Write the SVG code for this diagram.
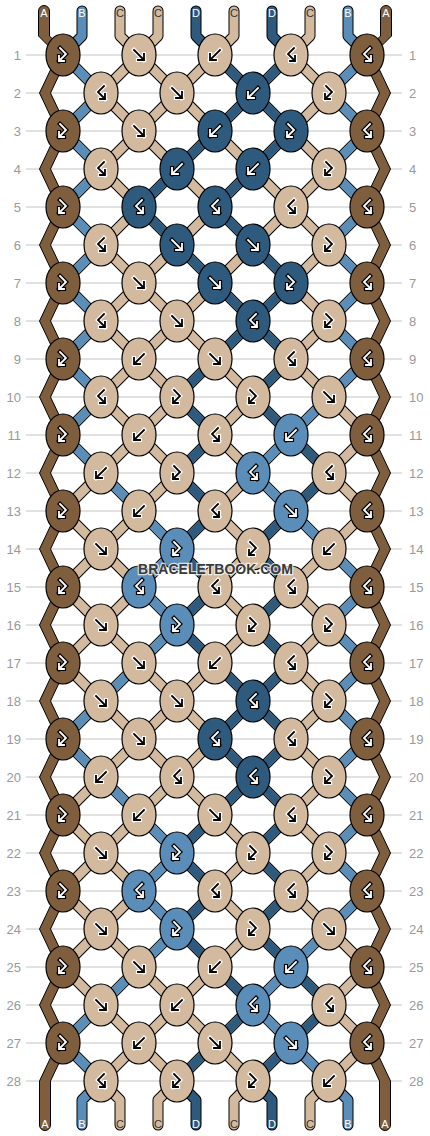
<svg xmlns="http://www.w3.org/2000/svg" xmlns:xlink="http://www.w3.org/1999/xlink" width="430" height="1136" viewBox="0 0 430 1136">
<style>
.grid{stroke:#c4c4c4;stroke-width:1;fill:none}
.num{font-family:"Liberation Sans",Arial,sans-serif;font-size:13px;fill:#999}
.nl{text-anchor:end}
.nr{text-anchor:start}
.ol{fill:none;stroke:#000;stroke-width:11}
.olr{fill:none;stroke:#000;stroke-width:11;stroke-linecap:round;stroke-linejoin:round}
.tc{fill:none;stroke:#d3b99d;stroke-width:9}
.tcr{fill:none;stroke-width:9;stroke-linecap:round;stroke-linejoin:round}
.sb{fill:none;stroke:#5a8db7;stroke-width:9}
.sd{fill:none;stroke:#2e5a7e;stroke-width:9}
.edge{fill:#7f5e3e;stroke:#000;stroke-width:1}
ellipse{stroke:#000;stroke-width:1.2}
.kb{fill:#7f5e3e}.kc{fill:#d3b99d}.kd{fill:#2e5a7e}.kl{fill:#5a8db7}
.go-k{fill:none;stroke:#000;stroke-width:4.2;stroke-linecap:square}
.go-w{fill:none;stroke:#fff;stroke-width:4.2;stroke-linecap:square}
.gi-w{fill:none;stroke:#fff;stroke-width:1.8;stroke-linecap:square}
.gi-k{fill:none;stroke:#000;stroke-width:1.8;stroke-linecap:square}
.lbl{font-family:"Liberation Sans",Arial,sans-serif;font-size:11px;text-anchor:middle}
.lw{fill:#fff}.lk{fill:#333}
.wm{font-family:"Liberation Sans",Arial,sans-serif;font-weight:bold;font-size:14px;text-anchor:middle;fill:#3a3a3a;stroke:#fff;stroke-width:2.5;stroke-opacity:0.75;paint-order:stroke}
</style>
<defs>
<path id="pF" d="M-5,-5L5,5M5,-1L5,5L-1,5"/>
<path id="pB" d="M5,-5L-5,5M-5,-1L-5,5L1,5"/>
<path id="pFB" d="M-3,-7L3,-1L-4,6M-4,1L-4,6L1,6"/>
<path id="pBF" d="M3,-7L-3,-1L4,6M4,1L4,6L-1,6"/>
<g id="wF"><use href="#pF" class="go-k"/><use href="#pF" class="gi-w"/></g>
<g id="wB"><use href="#pB" class="go-k"/><use href="#pB" class="gi-w"/></g>
<g id="wFB"><use href="#pFB" class="go-k"/><use href="#pFB" class="gi-w"/></g>
<g id="wBF"><use href="#pBF" class="go-k"/><use href="#pBF" class="gi-w"/></g>
<g id="kF"><use href="#pF" class="go-w"/><use href="#pF" class="gi-k"/></g>
<g id="kB"><use href="#pB" class="go-w"/><use href="#pB" class="gi-k"/></g>
<g id="kFB"><use href="#pFB" class="go-w"/><use href="#pFB" class="gi-k"/></g>
<g id="kBF"><use href="#pBF" class="go-w"/><use href="#pBF" class="gi-k"/></g>
</defs>
<g id="grid">
<path class="grid" d="M26,55H402M26,93H402M26,131H402M26,169H402M26,207H402M26,245H402M26,283H402M26,321H402M26,359H402M26,397H402M26,435H402M26,473H402M26,511H402M26,549H402M26,587H402M26,625H402M26,663H402M26,701H402M26,739H402M26,777H402M26,815H402M26,853H402M26,891H402M26,929H402M26,967H402M26,1005H402M26,1043H402M26,1081H402"/>
</g>
<g id="row-labels">
<text class="num nl" x="21" y="60">1</text><text class="num nr" x="409" y="60">1</text>
<text class="num nl" x="21" y="98">2</text><text class="num nr" x="409" y="98">2</text>
<text class="num nl" x="21" y="136">3</text><text class="num nr" x="409" y="136">3</text>
<text class="num nl" x="21" y="174">4</text><text class="num nr" x="409" y="174">4</text>
<text class="num nl" x="21" y="212">5</text><text class="num nr" x="409" y="212">5</text>
<text class="num nl" x="21" y="250">6</text><text class="num nr" x="409" y="250">6</text>
<text class="num nl" x="21" y="288">7</text><text class="num nr" x="409" y="288">7</text>
<text class="num nl" x="21" y="326">8</text><text class="num nr" x="409" y="326">8</text>
<text class="num nl" x="21" y="364">9</text><text class="num nr" x="409" y="364">9</text>
<text class="num nl" x="21" y="402">10</text><text class="num nr" x="409" y="402">10</text>
<text class="num nl" x="21" y="440">11</text><text class="num nr" x="409" y="440">11</text>
<text class="num nl" x="21" y="478">12</text><text class="num nr" x="409" y="478">12</text>
<text class="num nl" x="21" y="516">13</text><text class="num nr" x="409" y="516">13</text>
<text class="num nl" x="21" y="554">14</text><text class="num nr" x="409" y="554">14</text>
<text class="num nl" x="21" y="592">15</text><text class="num nr" x="409" y="592">15</text>
<text class="num nl" x="21" y="630">16</text><text class="num nr" x="409" y="630">16</text>
<text class="num nl" x="21" y="668">17</text><text class="num nr" x="409" y="668">17</text>
<text class="num nl" x="21" y="706">18</text><text class="num nr" x="409" y="706">18</text>
<text class="num nl" x="21" y="744">19</text><text class="num nr" x="409" y="744">19</text>
<text class="num nl" x="21" y="782">20</text><text class="num nr" x="409" y="782">20</text>
<text class="num nl" x="21" y="820">21</text><text class="num nr" x="409" y="820">21</text>
<text class="num nl" x="21" y="858">22</text><text class="num nr" x="409" y="858">22</text>
<text class="num nl" x="21" y="896">23</text><text class="num nr" x="409" y="896">23</text>
<text class="num nl" x="21" y="934">24</text><text class="num nr" x="409" y="934">24</text>
<text class="num nl" x="21" y="972">25</text><text class="num nr" x="409" y="972">25</text>
<text class="num nl" x="21" y="1010">26</text><text class="num nr" x="409" y="1010">26</text>
<text class="num nl" x="21" y="1048">27</text><text class="num nr" x="409" y="1048">27</text>
<text class="num nl" x="21" y="1086">28</text><text class="num nr" x="409" y="1086">28</text>
</g>
<g id="connectors">
<path class="ol" d="M291,55L367,131M215,55L367,207M139,55L367,283M63,55L367,359M63,131L367,435M63,207L367,511M63,283L367,587M63,359L367,663M63,435L367,739M63,511L367,815M63,587L367,891M63,663L367,967M63,739L367,1043M63,815L329,1081M63,891L253,1081M63,967L177,1081M63,1043L101,1081M139,55L63,131M215,55L63,207M291,55L63,283M367,55L63,359M367,131L63,435M367,207L63,511M367,283L63,587M367,359L63,663M367,435L63,739M367,511L63,815M367,587L63,891M367,663L63,967M367,739L63,1043M367,815L101,1081M367,891L177,1081M367,967L253,1081M367,1043L329,1081"/>
<path class="olr" d="M82,11V36L63,55M120,11V36L139,55M158,11V36L139,55M196,11V36L215,55M234,11V36L215,55M272,11V36L291,55M310,11V36L291,55M348,11V36L367,55M101,1081L82,1100V1125M101,1081L120,1100V1125M177,1081L158,1100V1125M177,1081L196,1100V1125M253,1081L234,1100V1125M253,1081L272,1100V1125M329,1081L310,1100V1125M329,1081L348,1100V1125"/>
<path id="thread-A-left" class="edge" d="M38.5,11A5.5,5.5 0 0 1 49.5,11L49.5,36L68.5,55L50.5,93L68.5,131L50.5,169L68.5,207L50.5,245L68.5,283L50.5,321L68.5,359L50.5,397L68.5,435L50.5,473L68.5,511L50.5,549L68.5,587L50.5,625L68.5,663L50.5,701L68.5,739L50.5,777L68.5,815L50.5,853L68.5,891L50.5,929L68.5,967L50.5,1005L68.5,1043L50.5,1081L50.5,1125A5.5,5.5 0 0 1 39.5,1125L39.5,1081L57.5,1043L39.5,1005L57.5,967L39.5,929L57.5,891L39.5,853L57.5,815L39.5,777L57.5,739L39.5,701L57.5,663L39.5,625L57.5,587L39.5,549L57.5,511L39.5,473L57.5,435L39.5,397L57.5,359L39.5,321L57.5,283L39.5,245L57.5,207L39.5,169L57.5,131L39.5,93L57.5,55L38.5,36Z"/>
<path id="thread-A-right" class="edge" d="M380.5,11A5.5,5.5 0 0 1 391.5,11L391.5,36L372.5,55L390.5,93L372.5,131L390.5,169L372.5,207L390.5,245L372.5,283L390.5,321L372.5,359L390.5,397L372.5,435L390.5,473L372.5,511L390.5,549L372.5,587L390.5,625L372.5,663L390.5,701L372.5,739L390.5,777L372.5,815L390.5,853L372.5,891L390.5,929L372.5,967L390.5,1005L372.5,1043L390.5,1081L390.5,1125A5.5,5.5 0 0 1 379.5,1125L379.5,1081L361.5,1043L379.5,1005L361.5,967L379.5,929L361.5,891L379.5,853L361.5,815L379.5,777L361.5,739L379.5,701L361.5,663L379.5,625L361.5,587L379.5,549L361.5,511L379.5,473L361.5,435L379.5,397L361.5,359L379.5,321L361.5,283L379.5,245L361.5,207L379.5,169L361.5,131L379.5,93L361.5,55L380.5,36Z"/>
<path class="tc" d="M291,55L367,131M215,55L367,207M139,55L367,283M63,55L367,359M63,131L367,435M63,207L367,511M63,283L367,587M63,359L367,663M63,435L367,739M63,511L367,815M63,587L367,891M63,663L367,967M63,739L367,1043M63,815L329,1081M63,891L253,1081M63,967L177,1081M63,1043L101,1081M139,55L63,131M215,55L63,207M291,55L63,283M367,55L63,359M367,131L63,435M367,207L63,511M367,283L63,587M367,359L63,663M367,435L63,739M367,511L63,815M367,587L63,891M367,663L63,967M367,739L63,1043M367,815L101,1081M367,891L177,1081M367,967L253,1081M367,1043L329,1081"/>
<path class="tcr" stroke="#d3b99d" d="M120,11V36L139,55M158,11V36L139,55M234,11V36L215,55M310,11V36L291,55M101,1081L120,1100V1125M177,1081L158,1100V1125M253,1081L234,1100V1125M329,1081L310,1100V1125"/>
<path class="tcr" stroke="#5a8db7" d="M82,11V36L63,55M348,11V36L367,55M101,1081L82,1100V1125M329,1081L348,1100V1125"/>
<path class="tcr" stroke="#2e5a7e" d="M196,11V36L215,55M272,11V36L291,55M177,1081L196,1100V1125M253,1081L272,1100V1125"/>
<path class="sb" d="M63,55l38,38M367,55l-38,38M101,93l-38,38M329,93l38,38M63,131l38,38M367,131l-38,38M101,169l-38,38M329,169l38,38M63,207l38,38M367,207l-38,38M101,245l-38,38M329,245l38,38M63,283l38,38M367,283l-38,38M101,321l-38,38M329,321l38,38M63,359l38,38M367,359l-38,38M101,397l-38,38M329,397l-38,38M63,435l38,38M291,435l-38,38M101,473l38,38M253,473l38,38M139,511l38,38M291,511l38,38M177,549l-38,38M329,549l38,38M139,587l38,38M367,587l-38,38M177,625l-38,38M329,625l38,38M139,663l-38,38M367,663l-38,38M101,701l-38,38M329,701l38,38M63,739l38,38M367,739l-38,38M101,777l38,38M329,777l38,38M139,815l38,38M367,815l-38,38M177,853l-38,38M329,853l38,38M139,891l38,38M367,891l-38,38M177,929l-38,38M329,929l-38,38M139,967l-38,38M291,967l-38,38M101,1005l-38,38M253,1005l38,38M63,1043l38,38M291,1043l38,38"/>
<path class="sd" d="M215,55l38,38M291,55l-38,38M253,93l-38,38M253,93l38,38M215,131l-38,38M291,131l-38,38M177,169l-38,38M253,169l-38,38M139,207l38,38M215,207l38,38M177,245l38,38M253,245l38,38M215,283l38,38M291,283l-38,38M253,321l-38,38M253,321l38,38M215,359l-38,38M291,359l-38,38M177,397l38,38M253,397l38,38M215,435l-38,38M291,435l38,38M177,473l38,38M329,473l-38,38M215,511l-38,38M291,511l-38,38M177,549l38,38M253,549l38,38M215,587l-38,38M291,587l-38,38M177,625l38,38M253,625l38,38M215,663l38,38M291,663l-38,38M253,701l-38,38M253,701l38,38M215,739l38,38M291,739l-38,38M253,777l-38,38M253,777l38,38M215,815l-38,38M291,815l-38,38M177,853l38,38M253,853l38,38M215,891l-38,38M291,891l-38,38M177,929l38,38M253,929l38,38M215,967l38,38M291,967l38,38M253,1005l-38,38M329,1005l-38,38M215,1043l-38,38M291,1043l-38,38"/>
</g>
<g id="knots">
<g id="k01-1"><ellipse cx="63" cy="55" rx="17" ry="21" class="kb"/><use href="#wFB" x="63" y="55"/></g>
<g id="k01-2"><ellipse cx="139" cy="55" rx="17" ry="21" class="kc"/><use href="#kF" x="139" y="55"/></g>
<g id="k01-3"><ellipse cx="215" cy="55" rx="17" ry="21" class="kc"/><use href="#kB" x="215" y="55"/></g>
<g id="k01-4"><ellipse cx="291" cy="55" rx="17" ry="21" class="kc"/><use href="#kBF" x="291" y="55"/></g>
<g id="k01-5"><ellipse cx="367" cy="55" rx="17" ry="21" class="kb"/><use href="#wBF" x="367" y="55"/></g>
<g id="k02-1"><ellipse cx="101" cy="93" rx="17" ry="21" class="kc"/><use href="#kBF" x="101" y="93"/></g>
<g id="k02-2"><ellipse cx="177" cy="93" rx="17" ry="21" class="kc"/><use href="#kF" x="177" y="93"/></g>
<g id="k02-3"><ellipse cx="253" cy="93" rx="17" ry="21" class="kd"/><use href="#wB" x="253" y="93"/></g>
<g id="k02-4"><ellipse cx="329" cy="93" rx="17" ry="21" class="kc"/><use href="#kFB" x="329" y="93"/></g>
<g id="k03-1"><ellipse cx="63" cy="131" rx="17" ry="21" class="kb"/><use href="#wFB" x="63" y="131"/></g>
<g id="k03-2"><ellipse cx="139" cy="131" rx="17" ry="21" class="kc"/><use href="#kF" x="139" y="131"/></g>
<g id="k03-3"><ellipse cx="215" cy="131" rx="17" ry="21" class="kd"/><use href="#wB" x="215" y="131"/></g>
<g id="k03-4"><ellipse cx="291" cy="131" rx="17" ry="21" class="kd"/><use href="#wFB" x="291" y="131"/></g>
<g id="k03-5"><ellipse cx="367" cy="131" rx="17" ry="21" class="kb"/><use href="#wBF" x="367" y="131"/></g>
<g id="k04-1"><ellipse cx="101" cy="169" rx="17" ry="21" class="kc"/><use href="#kBF" x="101" y="169"/></g>
<g id="k04-2"><ellipse cx="177" cy="169" rx="17" ry="21" class="kd"/><use href="#wB" x="177" y="169"/></g>
<g id="k04-3"><ellipse cx="253" cy="169" rx="17" ry="21" class="kd"/><use href="#wB" x="253" y="169"/></g>
<g id="k04-4"><ellipse cx="329" cy="169" rx="17" ry="21" class="kc"/><use href="#kFB" x="329" y="169"/></g>
<g id="k05-1"><ellipse cx="63" cy="207" rx="17" ry="21" class="kb"/><use href="#wFB" x="63" y="207"/></g>
<g id="k05-2"><ellipse cx="139" cy="207" rx="17" ry="21" class="kd"/><use href="#wBF" x="139" y="207"/></g>
<g id="k05-3"><ellipse cx="215" cy="207" rx="17" ry="21" class="kd"/><use href="#wBF" x="215" y="207"/></g>
<g id="k05-4"><ellipse cx="291" cy="207" rx="17" ry="21" class="kc"/><use href="#kBF" x="291" y="207"/></g>
<g id="k05-5"><ellipse cx="367" cy="207" rx="17" ry="21" class="kb"/><use href="#wBF" x="367" y="207"/></g>
<g id="k06-1"><ellipse cx="101" cy="245" rx="17" ry="21" class="kc"/><use href="#kBF" x="101" y="245"/></g>
<g id="k06-2"><ellipse cx="177" cy="245" rx="17" ry="21" class="kd"/><use href="#wF" x="177" y="245"/></g>
<g id="k06-3"><ellipse cx="253" cy="245" rx="17" ry="21" class="kd"/><use href="#wF" x="253" y="245"/></g>
<g id="k06-4"><ellipse cx="329" cy="245" rx="17" ry="21" class="kc"/><use href="#kFB" x="329" y="245"/></g>
<g id="k07-1"><ellipse cx="63" cy="283" rx="17" ry="21" class="kb"/><use href="#wFB" x="63" y="283"/></g>
<g id="k07-2"><ellipse cx="139" cy="283" rx="17" ry="21" class="kc"/><use href="#kF" x="139" y="283"/></g>
<g id="k07-3"><ellipse cx="215" cy="283" rx="17" ry="21" class="kd"/><use href="#wF" x="215" y="283"/></g>
<g id="k07-4"><ellipse cx="291" cy="283" rx="17" ry="21" class="kd"/><use href="#wFB" x="291" y="283"/></g>
<g id="k07-5"><ellipse cx="367" cy="283" rx="17" ry="21" class="kb"/><use href="#wBF" x="367" y="283"/></g>
<g id="k08-1"><ellipse cx="101" cy="321" rx="17" ry="21" class="kc"/><use href="#kBF" x="101" y="321"/></g>
<g id="k08-2"><ellipse cx="177" cy="321" rx="17" ry="21" class="kc"/><use href="#kF" x="177" y="321"/></g>
<g id="k08-3"><ellipse cx="253" cy="321" rx="17" ry="21" class="kd"/><use href="#wBF" x="253" y="321"/></g>
<g id="k08-4"><ellipse cx="329" cy="321" rx="17" ry="21" class="kc"/><use href="#kFB" x="329" y="321"/></g>
<g id="k09-1"><ellipse cx="63" cy="359" rx="17" ry="21" class="kb"/><use href="#wFB" x="63" y="359"/></g>
<g id="k09-2"><ellipse cx="139" cy="359" rx="17" ry="21" class="kc"/><use href="#kB" x="139" y="359"/></g>
<g id="k09-3"><ellipse cx="215" cy="359" rx="17" ry="21" class="kc"/><use href="#kF" x="215" y="359"/></g>
<g id="k09-4"><ellipse cx="291" cy="359" rx="17" ry="21" class="kc"/><use href="#kBF" x="291" y="359"/></g>
<g id="k09-5"><ellipse cx="367" cy="359" rx="17" ry="21" class="kb"/><use href="#wBF" x="367" y="359"/></g>
<g id="k10-1"><ellipse cx="101" cy="397" rx="17" ry="21" class="kc"/><use href="#kBF" x="101" y="397"/></g>
<g id="k10-2"><ellipse cx="177" cy="397" rx="17" ry="21" class="kc"/><use href="#kFB" x="177" y="397"/></g>
<g id="k10-3"><ellipse cx="253" cy="397" rx="17" ry="21" class="kc"/><use href="#kFB" x="253" y="397"/></g>
<g id="k10-4"><ellipse cx="329" cy="397" rx="17" ry="21" class="kc"/><use href="#kF" x="329" y="397"/></g>
<g id="k11-1"><ellipse cx="63" cy="435" rx="17" ry="21" class="kb"/><use href="#wFB" x="63" y="435"/></g>
<g id="k11-2"><ellipse cx="139" cy="435" rx="17" ry="21" class="kc"/><use href="#kB" x="139" y="435"/></g>
<g id="k11-3"><ellipse cx="215" cy="435" rx="17" ry="21" class="kc"/><use href="#kBF" x="215" y="435"/></g>
<g id="k11-4"><ellipse cx="291" cy="435" rx="17" ry="21" class="kl"/><use href="#wB" x="291" y="435"/></g>
<g id="k11-5"><ellipse cx="367" cy="435" rx="17" ry="21" class="kb"/><use href="#wBF" x="367" y="435"/></g>
<g id="k12-1"><ellipse cx="101" cy="473" rx="17" ry="21" class="kc"/><use href="#kB" x="101" y="473"/></g>
<g id="k12-2"><ellipse cx="177" cy="473" rx="17" ry="21" class="kc"/><use href="#kFB" x="177" y="473"/></g>
<g id="k12-3"><ellipse cx="253" cy="473" rx="17" ry="21" class="kl"/><use href="#wBF" x="253" y="473"/></g>
<g id="k12-4"><ellipse cx="329" cy="473" rx="17" ry="21" class="kc"/><use href="#kBF" x="329" y="473"/></g>
<g id="k13-1"><ellipse cx="63" cy="511" rx="17" ry="21" class="kb"/><use href="#wFB" x="63" y="511"/></g>
<g id="k13-2"><ellipse cx="139" cy="511" rx="17" ry="21" class="kc"/><use href="#kB" x="139" y="511"/></g>
<g id="k13-3"><ellipse cx="215" cy="511" rx="17" ry="21" class="kc"/><use href="#kBF" x="215" y="511"/></g>
<g id="k13-4"><ellipse cx="291" cy="511" rx="17" ry="21" class="kl"/><use href="#wF" x="291" y="511"/></g>
<g id="k13-5"><ellipse cx="367" cy="511" rx="17" ry="21" class="kb"/><use href="#wBF" x="367" y="511"/></g>
<g id="k14-1"><ellipse cx="101" cy="549" rx="17" ry="21" class="kc"/><use href="#kF" x="101" y="549"/></g>
<g id="k14-2"><ellipse cx="177" cy="549" rx="17" ry="21" class="kl"/><use href="#wFB" x="177" y="549"/></g>
<g id="k14-3"><ellipse cx="253" cy="549" rx="17" ry="21" class="kc"/><use href="#kFB" x="253" y="549"/></g>
<g id="k14-4"><ellipse cx="329" cy="549" rx="17" ry="21" class="kc"/><use href="#kB" x="329" y="549"/></g>
<g id="k15-1"><ellipse cx="63" cy="587" rx="17" ry="21" class="kb"/><use href="#wFB" x="63" y="587"/></g>
<g id="k15-2"><ellipse cx="139" cy="587" rx="17" ry="21" class="kl"/><use href="#wBF" x="139" y="587"/></g>
<g id="k15-3"><ellipse cx="215" cy="587" rx="17" ry="21" class="kc"/><use href="#kBF" x="215" y="587"/></g>
<g id="k15-4"><ellipse cx="291" cy="587" rx="17" ry="21" class="kc"/><use href="#kBF" x="291" y="587"/></g>
<g id="k15-5"><ellipse cx="367" cy="587" rx="17" ry="21" class="kb"/><use href="#wBF" x="367" y="587"/></g>
<g id="k16-1"><ellipse cx="101" cy="625" rx="17" ry="21" class="kc"/><use href="#kF" x="101" y="625"/></g>
<g id="k16-2"><ellipse cx="177" cy="625" rx="17" ry="21" class="kl"/><use href="#wFB" x="177" y="625"/></g>
<g id="k16-3"><ellipse cx="253" cy="625" rx="17" ry="21" class="kc"/><use href="#kFB" x="253" y="625"/></g>
<g id="k16-4"><ellipse cx="329" cy="625" rx="17" ry="21" class="kc"/><use href="#kFB" x="329" y="625"/></g>
<g id="k17-1"><ellipse cx="63" cy="663" rx="17" ry="21" class="kb"/><use href="#wFB" x="63" y="663"/></g>
<g id="k17-2"><ellipse cx="139" cy="663" rx="17" ry="21" class="kc"/><use href="#kF" x="139" y="663"/></g>
<g id="k17-3"><ellipse cx="215" cy="663" rx="17" ry="21" class="kc"/><use href="#kB" x="215" y="663"/></g>
<g id="k17-4"><ellipse cx="291" cy="663" rx="17" ry="21" class="kc"/><use href="#kBF" x="291" y="663"/></g>
<g id="k17-5"><ellipse cx="367" cy="663" rx="17" ry="21" class="kb"/><use href="#wBF" x="367" y="663"/></g>
<g id="k18-1"><ellipse cx="101" cy="701" rx="17" ry="21" class="kc"/><use href="#kF" x="101" y="701"/></g>
<g id="k18-2"><ellipse cx="177" cy="701" rx="17" ry="21" class="kc"/><use href="#kF" x="177" y="701"/></g>
<g id="k18-3"><ellipse cx="253" cy="701" rx="17" ry="21" class="kd"/><use href="#wBF" x="253" y="701"/></g>
<g id="k18-4"><ellipse cx="329" cy="701" rx="17" ry="21" class="kc"/><use href="#kFB" x="329" y="701"/></g>
<g id="k19-1"><ellipse cx="63" cy="739" rx="17" ry="21" class="kb"/><use href="#wFB" x="63" y="739"/></g>
<g id="k19-2"><ellipse cx="139" cy="739" rx="17" ry="21" class="kc"/><use href="#kF" x="139" y="739"/></g>
<g id="k19-3"><ellipse cx="215" cy="739" rx="17" ry="21" class="kd"/><use href="#wBF" x="215" y="739"/></g>
<g id="k19-4"><ellipse cx="291" cy="739" rx="17" ry="21" class="kc"/><use href="#kBF" x="291" y="739"/></g>
<g id="k19-5"><ellipse cx="367" cy="739" rx="17" ry="21" class="kb"/><use href="#wBF" x="367" y="739"/></g>
<g id="k20-1"><ellipse cx="101" cy="777" rx="17" ry="21" class="kc"/><use href="#kB" x="101" y="777"/></g>
<g id="k20-2"><ellipse cx="177" cy="777" rx="17" ry="21" class="kc"/><use href="#kBF" x="177" y="777"/></g>
<g id="k20-3"><ellipse cx="253" cy="777" rx="17" ry="21" class="kd"/><use href="#wBF" x="253" y="777"/></g>
<g id="k20-4"><ellipse cx="329" cy="777" rx="17" ry="21" class="kc"/><use href="#kFB" x="329" y="777"/></g>
<g id="k21-1"><ellipse cx="63" cy="815" rx="17" ry="21" class="kb"/><use href="#wFB" x="63" y="815"/></g>
<g id="k21-2"><ellipse cx="139" cy="815" rx="17" ry="21" class="kc"/><use href="#kB" x="139" y="815"/></g>
<g id="k21-3"><ellipse cx="215" cy="815" rx="17" ry="21" class="kc"/><use href="#kF" x="215" y="815"/></g>
<g id="k21-4"><ellipse cx="291" cy="815" rx="17" ry="21" class="kc"/><use href="#kBF" x="291" y="815"/></g>
<g id="k21-5"><ellipse cx="367" cy="815" rx="17" ry="21" class="kb"/><use href="#wBF" x="367" y="815"/></g>
<g id="k22-1"><ellipse cx="101" cy="853" rx="17" ry="21" class="kc"/><use href="#kF" x="101" y="853"/></g>
<g id="k22-2"><ellipse cx="177" cy="853" rx="17" ry="21" class="kl"/><use href="#wFB" x="177" y="853"/></g>
<g id="k22-3"><ellipse cx="253" cy="853" rx="17" ry="21" class="kc"/><use href="#kFB" x="253" y="853"/></g>
<g id="k22-4"><ellipse cx="329" cy="853" rx="17" ry="21" class="kc"/><use href="#kFB" x="329" y="853"/></g>
<g id="k23-1"><ellipse cx="63" cy="891" rx="17" ry="21" class="kb"/><use href="#wFB" x="63" y="891"/></g>
<g id="k23-2"><ellipse cx="139" cy="891" rx="17" ry="21" class="kl"/><use href="#wBF" x="139" y="891"/></g>
<g id="k23-3"><ellipse cx="215" cy="891" rx="17" ry="21" class="kc"/><use href="#kBF" x="215" y="891"/></g>
<g id="k23-4"><ellipse cx="291" cy="891" rx="17" ry="21" class="kc"/><use href="#kBF" x="291" y="891"/></g>
<g id="k23-5"><ellipse cx="367" cy="891" rx="17" ry="21" class="kb"/><use href="#wBF" x="367" y="891"/></g>
<g id="k24-1"><ellipse cx="101" cy="929" rx="17" ry="21" class="kc"/><use href="#kF" x="101" y="929"/></g>
<g id="k24-2"><ellipse cx="177" cy="929" rx="17" ry="21" class="kl"/><use href="#wFB" x="177" y="929"/></g>
<g id="k24-3"><ellipse cx="253" cy="929" rx="17" ry="21" class="kc"/><use href="#kFB" x="253" y="929"/></g>
<g id="k24-4"><ellipse cx="329" cy="929" rx="17" ry="21" class="kc"/><use href="#kF" x="329" y="929"/></g>
<g id="k25-1"><ellipse cx="63" cy="967" rx="17" ry="21" class="kb"/><use href="#wFB" x="63" y="967"/></g>
<g id="k25-2"><ellipse cx="139" cy="967" rx="17" ry="21" class="kc"/><use href="#kF" x="139" y="967"/></g>
<g id="k25-3"><ellipse cx="215" cy="967" rx="17" ry="21" class="kc"/><use href="#kB" x="215" y="967"/></g>
<g id="k25-4"><ellipse cx="291" cy="967" rx="17" ry="21" class="kl"/><use href="#wB" x="291" y="967"/></g>
<g id="k25-5"><ellipse cx="367" cy="967" rx="17" ry="21" class="kb"/><use href="#wBF" x="367" y="967"/></g>
<g id="k26-1"><ellipse cx="101" cy="1005" rx="17" ry="21" class="kc"/><use href="#kF" x="101" y="1005"/></g>
<g id="k26-2"><ellipse cx="177" cy="1005" rx="17" ry="21" class="kc"/><use href="#kB" x="177" y="1005"/></g>
<g id="k26-3"><ellipse cx="253" cy="1005" rx="17" ry="21" class="kl"/><use href="#wBF" x="253" y="1005"/></g>
<g id="k26-4"><ellipse cx="329" cy="1005" rx="17" ry="21" class="kc"/><use href="#kBF" x="329" y="1005"/></g>
<g id="k27-1"><ellipse cx="63" cy="1043" rx="17" ry="21" class="kb"/><use href="#wFB" x="63" y="1043"/></g>
<g id="k27-2"><ellipse cx="139" cy="1043" rx="17" ry="21" class="kc"/><use href="#kB" x="139" y="1043"/></g>
<g id="k27-3"><ellipse cx="215" cy="1043" rx="17" ry="21" class="kc"/><use href="#kF" x="215" y="1043"/></g>
<g id="k27-4"><ellipse cx="291" cy="1043" rx="17" ry="21" class="kl"/><use href="#wF" x="291" y="1043"/></g>
<g id="k27-5"><ellipse cx="367" cy="1043" rx="17" ry="21" class="kb"/><use href="#wBF" x="367" y="1043"/></g>
<g id="k28-1"><ellipse cx="101" cy="1081" rx="17" ry="21" class="kc"/><use href="#kBF" x="101" y="1081"/></g>
<g id="k28-2"><ellipse cx="177" cy="1081" rx="17" ry="21" class="kc"/><use href="#kFB" x="177" y="1081"/></g>
<g id="k28-3"><ellipse cx="253" cy="1081" rx="17" ry="21" class="kc"/><use href="#kFB" x="253" y="1081"/></g>
<g id="k28-4"><ellipse cx="329" cy="1081" rx="17" ry="21" class="kc"/><use href="#kB" x="329" y="1081"/></g>
</g>
<g id="thread-labels">
<text class="lbl lw" x="44" y="16.5">A</text><text class="lbl lw" x="82" y="16.5">B</text><text class="lbl lk" x="120" y="16.5">C</text><text class="lbl lk" x="158" y="16.5">C</text><text class="lbl lw" x="196" y="16.5">D</text><text class="lbl lk" x="234" y="16.5">C</text><text class="lbl lw" x="272" y="16.5">D</text><text class="lbl lk" x="310" y="16.5">C</text><text class="lbl lw" x="348" y="16.5">B</text><text class="lbl lw" x="386" y="16.5">A</text>
<text class="lbl lw" x="45" y="1128">A</text><text class="lbl lw" x="82" y="1128">B</text><text class="lbl lk" x="120" y="1128">C</text><text class="lbl lk" x="158" y="1128">C</text><text class="lbl lw" x="196" y="1128">D</text><text class="lbl lk" x="234" y="1128">C</text><text class="lbl lw" x="272" y="1128">D</text><text class="lbl lk" x="310" y="1128">C</text><text class="lbl lw" x="348" y="1128">B</text><text class="lbl lw" x="385" y="1128">A</text>
</g>
<text class="wm" x="215.5" y="573.5">BRACELETBOOK.COM</text>
</svg>
